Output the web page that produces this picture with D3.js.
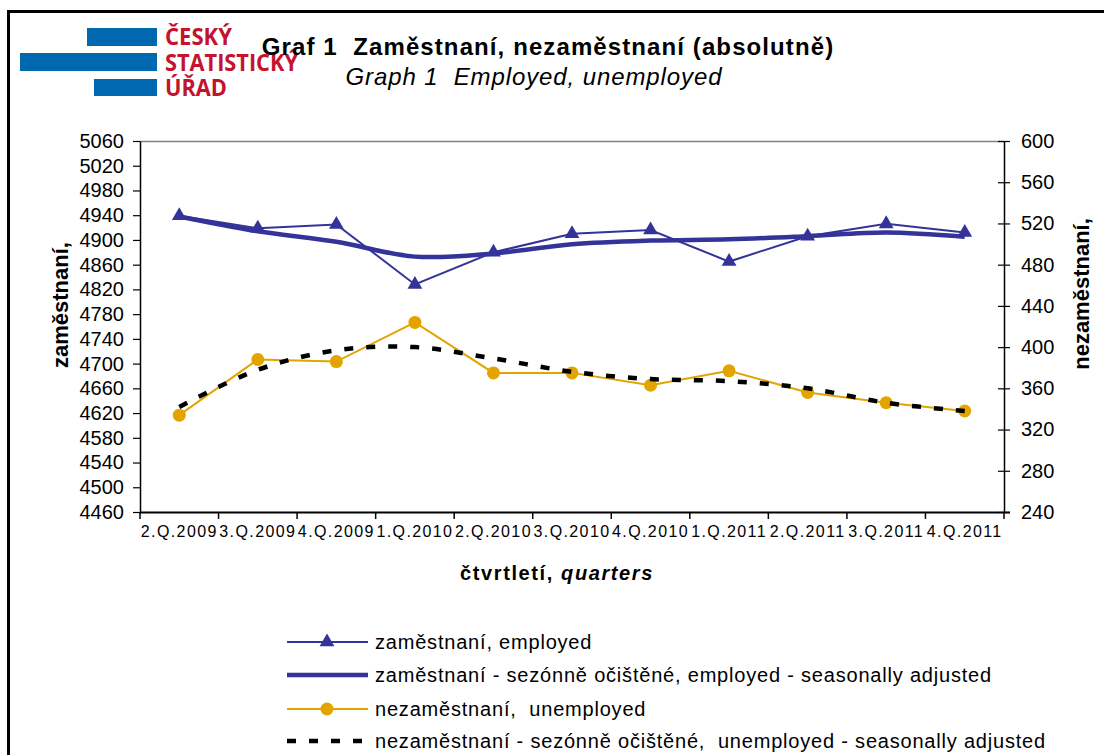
<!DOCTYPE html>
<html>
<head>
<meta charset="utf-8">
<script src="https://cdn.jsdelivr.net/npm/d3@7"></script>
<style>
  body { margin: 0; background: #fff; }
  svg { display: block; font-family: "Liberation Sans", Arial, sans-serif; }
</style>
</head>
<body>
<svg id="chart" width="1104" height="755"></svg>
<script>
/* data */
const quarters = ["2.Q.2009", "3.Q.2009", "4.Q.2009", "1.Q.2010", "2.Q.2010", "3.Q.2010",
                  "4.Q.2010", "1.Q.2011", "2.Q.2011", "3.Q.2011", "4.Q.2011"];
const employed   = [4939, 4919, 4925, 4828, 4880, 4910, 4916, 4865, 4906, 4926, 4912];
const employedSA = [4938, 4914, 4897, 4873, 4878, 4893, 4899, 4901, 4906, 4912, 4905];
const unemployed   = [334, 388, 386, 424, 375, 375, 363, 377, 356, 346, 338];
const unemployedSA = [342, 378, 397, 400, 389, 376, 369, 367, 360, 346, 338];
const leftTicks  = d3.range(4460, 5061, 40);
const rightTicks = d3.range(240, 601, 40);
const legendItems = [
  "zaměstnaní, employed",
  "zaměstnaní - sezónně očištěné, employed - seasonally adjusted",
  "nezaměstnaní,  unemployed",
  "nezaměstnaní - sezónně očištěné,  unemployed - seasonally adjusted"
];

const blue = "#333399";
const gold = "#E3A400";

/* plot area */
let pLeft = 140, pRight = 1004, pTop = 141, pBottom = 512;

const svg = d3.select("#chart");

// outer frame
svg.append("rect")
   .attr("x", 8.5).attr("y", 11.5)
   .attr("width", 1120).attr("height", 800)
   .attr("fill", "none").attr("stroke", "#000").attr("stroke-width", 3);

// logo
let logo = svg.append("g");
logo.append("rect").attr("x", 87).attr("y", 28).attr("width", 70).attr("height", 18).attr("fill", "#0068AE");
logo.append("rect").attr("x", 20).attr("y", 53).attr("width", 137).attr("height", 18).attr("fill", "#0068AE");
logo.append("rect").attr("x", 94).attr("y", 79).attr("width", 63).attr("height", 17).attr("fill", "#0068AE");
[["ČESKÝ", 45, 67], ["STATISTICKÝ", 71, 133], ["ÚŘAD", 96, 62]].forEach(d => {
  logo.append("text")
      .attr("x", 165).attr("y", d[1])
      .attr("textLength", d[2]).attr("lengthAdjust", "spacingAndGlyphs")
      .attr("font-family", "'Open Sans', 'Liberation Sans', sans-serif")
      .attr("font-weight", "bold").attr("font-size", 23)
      .attr("fill", "#C4122F")
      .text(d[0]);
});

// titles
svg.append("text")
   .attr("x", 548).attr("y", 55).attr("text-anchor", "middle")
   .attr("font-size", 24).attr("font-weight", "bold").attr("letter-spacing", 1.1)
   .attr("xml:space", "preserve")
   .text("Graf 1  Zaměstnaní, nezaměstnaní (absolutně)");
svg.append("text")
   .attr("x", 534).attr("y", 85).attr("text-anchor", "middle")
   .attr("font-size", 24).attr("font-style", "italic").attr("letter-spacing", 0.9)
   .attr("xml:space", "preserve")
   .text("Graph 1  Employed, unemployed");

/* scales */
let x = d3.scaleBand().domain(quarters).range([pLeft, pRight]);
let cx = q => x(q) + x.bandwidth() / 2;
let yL = d3.scaleLinear().domain([4460, 5060]).range([pBottom, pTop]);
let yR = d3.scaleLinear().domain([240, 600]).range([pBottom, pTop]);

// top border of plot
svg.append("line")
   .attr("x1", pLeft).attr("x2", pRight).attr("y1", pTop + 0.5).attr("y2", pTop + 0.5)
   .attr("stroke", "#808080").attr("stroke-width", 1.5);

// left axis
let leftAxis = svg.append("g")
   .attr("transform", `translate(${pLeft}, 0)`)
   .call(d3.axisLeft(yL).tickValues(leftTicks).tickFormat(d3.format("d"))
           .tickSize(7).tickSizeOuter(0).tickPadding(9));
leftAxis.selectAll("text").attr("font-size", 20).attr("fill", "#000");

// right axis
let rightAxis = svg.append("g")
   .attr("transform", `translate(${pRight}, 0)`)
   .call(d3.axisRight(yR).tickValues(rightTicks).tickFormat(d3.format("d"))
           .tickSize(6).tickSizeOuter(0).tickPadding(11));
rightAxis.selectAll(".tick line").attr("x1", -6);
rightAxis.selectAll("text").attr("font-size", 20).attr("fill", "#000");

// bottom axis: labels at centres, ticks between categories
let bottomAxis = svg.append("g")
   .attr("transform", `translate(0, ${pBottom})`)
   .call(d3.axisBottom(x).tickSize(0).tickSizeOuter(0).tickPadding(14));
bottomAxis.select(".domain").remove();
bottomAxis.selectAll("text").attr("font-size", 16).attr("letter-spacing", 1.4).attr("fill", "#000");
bottomAxis.selectAll(".boundary")
   .data(quarters.map(q => x(q)).concat([pRight]))
   .join("line")
   .attr("x1", d => d).attr("x2", d => d)
   .attr("y1", 0).attr("y2", 7)
   .attr("stroke", "#000").attr("stroke-width", 1.5);
bottomAxis.append("line")
   .attr("x1", pLeft).attr("x2", pRight + 6).attr("y1", 0.5).attr("y2", 0.5)
   .attr("stroke", "#000").attr("stroke-width", 2);

svg.selectAll(".domain").attr("stroke-width", 1.5);
svg.selectAll(".tick line").attr("stroke-width", 1.2);

// axis titles
svg.append("text")
   .attr("transform", "translate(68, 305) rotate(-90)")
   .attr("text-anchor", "middle")
   .attr("font-size", 22).attr("font-weight", "bold")
   .text("zaměstnaní,");
svg.append("text")
   .attr("transform", "translate(1089, 294) rotate(-90)")
   .attr("text-anchor", "middle")
   .attr("font-size", 22).attr("font-weight", "bold")
   .text("nezaměstnaní,");
let xTitle = svg.append("text")
   .attr("x", 557).attr("y", 580).attr("text-anchor", "middle")
   .attr("font-size", 20).attr("font-weight", "bold").attr("letter-spacing", 1.6);
xTitle.append("tspan").text("čtvrtletí, ");
xTitle.append("tspan").attr("font-style", "italic").text("quarters");

/* series */
let lineL = d3.line().x((d, i) => cx(quarters[i])).y(d => yL(d));
let smoothL = d3.line().x((d, i) => cx(quarters[i])).y(d => yL(d)).curve(d3.curveCatmullRom.alpha(0.5));
let lineR = d3.line().x((d, i) => cx(quarters[i])).y(d => yR(d));
let smoothR = d3.line().x((d, i) => cx(quarters[i])).y(d => yR(d)).curve(d3.curveCatmullRom.alpha(0.5));

let triangle = d3.symbol().type(d3.symbolTriangle).size(95);

svg.append("path")
   .attr("d", lineL(employed))
   .attr("fill", "none").attr("stroke", blue).attr("stroke-width", 2);
svg.append("g").selectAll("path")
   .data(employed)
   .join("path")
   .attr("transform", (d, i) => `translate(${cx(quarters[i])}, ${yL(d)})`)
   .attr("d", triangle)
   .attr("fill", blue);
svg.append("path")
   .attr("d", smoothL(employedSA))
   .attr("fill", "none").attr("stroke", blue).attr("stroke-width", 4.5);

svg.append("path")
   .attr("d", lineR(unemployed))
   .attr("fill", "none").attr("stroke", gold).attr("stroke-width", 2);
svg.append("g").selectAll("circle")
   .data(unemployed)
   .join("circle")
   .attr("cx", (d, i) => cx(quarters[i]))
   .attr("cy", d => yR(d))
   .attr("r", 6.5)
   .attr("fill", gold);
svg.append("path")
   .attr("d", smoothR(unemployedSA))
   .attr("fill", "none").attr("stroke", "#000").attr("stroke-width", 4.5)
   .attr("stroke-dasharray", "9,13");

/* legend */
let legendY = [642, 675, 709, 741];
let legend = svg.append("g");
legendItems.forEach((label, i) => {
  let y = legendY[i];
  let sym = legend.append("line")
     .attr("x1", 287).attr("x2", 368).attr("y1", y).attr("y2", y);
  if (i === 0) {
    sym.attr("stroke", blue).attr("stroke-width", 2);
    legend.append("path").attr("d", triangle).attr("fill", blue)
          .attr("transform", `translate(327, ${y})`);
  } else if (i === 1) {
    sym.attr("stroke", blue).attr("stroke-width", 4.5);
  } else if (i === 2) {
    sym.attr("stroke", gold).attr("stroke-width", 2);
    legend.append("circle").attr("cx", 327).attr("cy", y).attr("r", 6.5).attr("fill", gold);
  } else {
    sym.attr("stroke", "#000").attr("stroke-width", 4.5).attr("stroke-dasharray", "9,13");
  }
  legend.append("text")
     .attr("x", 375).attr("y", y + 7)
     .attr("font-size", 20).attr("letter-spacing", 0.8)
     .attr("xml:space", "preserve")
     .text(label);
});
</script>
</body>
</html>
